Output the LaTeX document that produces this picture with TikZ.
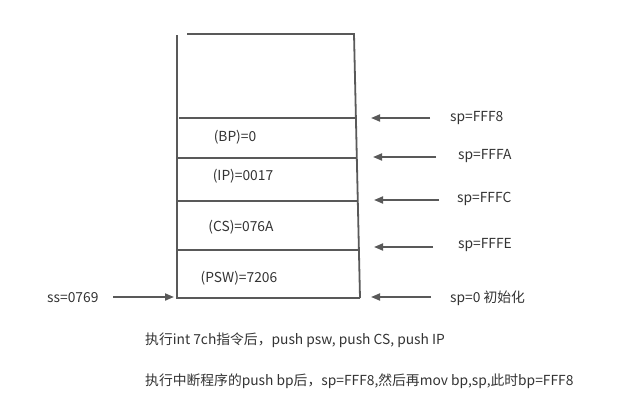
\documentclass[tikz,border=0pt]{standalone}
\usepackage{fontspec}
\setmainfont{Noto Sans CJK SC}
\usetikzlibrary{arrows.meta}
\definecolor{ln}{HTML}{595959}
\definecolor{tx}{HTML}{333333}
\begin{document}
\begin{tikzpicture}[x=1pt,y=-1pt,
  wall/.style={draw=ln,line width=1.8pt},
  ptr/.style={draw=ln,line width=1.8pt,-{Triangle[length=9pt,width=7pt]}},
  lbl/.style={text=tx,font=\fontsize{13.8}{16}\selectfont,inner sep=0pt},
  cell/.style={lbl,anchor=center}]
\useasboundingbox (0,0) rectangle (642,413);
% stack frame
\coordinate (tl) at (187,34);
\coordinate (tr) at (354,34);
\coordinate (br) at (360,298);
\coordinate (lt) at (177,35);
\coordinate (lb) at (177,298);
\draw[wall] (tl) -- (tr) -- (br);
\draw[wall] (lt) -- (lb) -- (br);
\coordinate (h1a) at (179,118); \coordinate (h1b) at (355,118);
\coordinate (h2a) at (177,158); \coordinate (h2b) at (357,158);
\coordinate (h3a) at (177,201); \coordinate (h3b) at (358,201);
\coordinate (h4a) at (177,250); \coordinate (h4b) at (359,250);
\draw[wall] (h1a) -- (h1b);
\draw[wall] (h2a) -- (h2b);
\draw[wall] (h3a) -- (h3b);
\draw[wall] (h4a) -- (h4b);
% cell contents
\node[cell] (bp) at (235,137) {(BP)=0};
\node[cell] (ip) at (243,176) {(IP)=0017};
\node[cell] (cs) at (241,227) {(CS)=076A};
\node[cell] (psw) at (239,278) {(PSW)=7206};
% sp labels
\node[lbl,anchor=west] (s8) at (450,118) {sp=FFF8};
\node[lbl,anchor=west] (sa) at (458,156) {sp=FFFA};
\node[lbl,anchor=west] (sc) at (457,199) {sp=FFFC};
\node[lbl,anchor=west] (se) at (458,245) {sp=FFFE};
\node[lbl,anchor=west] (s0) at (450,298) {sp=0 初始化};
\coordinate (a8s) at (430,118); \coordinate (a8e) at (371,118);
\coordinate (aas) at (436,157); \coordinate (aae) at (373,157);
\coordinate (acs) at (439,200); \coordinate (ace) at (374,200);
\coordinate (aes) at (433,247); \coordinate (aee) at (374,247);
\coordinate (a0s) at (431,297); \coordinate (a0e) at (371,297);
\draw[ptr] (a8s) -- (a8e);
\draw[ptr] (aas) -- (aae);
\draw[ptr] (acs) -- (ace);
\draw[ptr] (aes) -- (aee);
\draw[ptr] (a0s) -- (a0e);
% ss
\node[lbl,anchor=west] (ss) at (47,298) {ss=0769};
\coordinate (sss) at (113,297);
\coordinate (sse) at (174,297);
\draw[ptr] (sss) -- (sse);
% notes
\node[lbl,anchor=west] (n1) at (145,340) {执行int 7ch指令后，push psw, push CS, push IP};
\node[lbl,anchor=west] (n2) at (145,381) {执行中断程序的push bp后，sp=FFF8,然后再mov bp,sp,此时bp=FFF8};
\end{tikzpicture}
\end{document}
